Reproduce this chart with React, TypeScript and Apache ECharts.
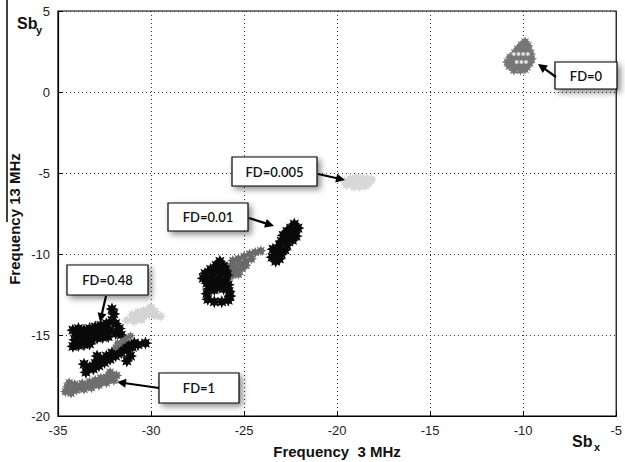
import React, { useEffect, useRef } from "react";
import * as echarts from "echarts";

const xTicks = [-35, -30, -25, -20, -15, -10, -5];
const yTicks = [-20, -15, -10, -5, 0, 5];

// FD = 0 (medium grey)
const fd0: number[][] = [
  [-9.9, 3.1], [-10.1, 2.9], [-9.75, 2.85], [-10.3, 2.65], [-10.0, 2.65], [-9.7, 2.6],
  [-10.45, 2.4], [-10.15, 2.4], [-9.85, 2.4], [-9.6, 2.35], [-10.7, 2.15], [-10.4, 2.1],
  [-10.1, 2.1], [-9.8, 2.1], [-9.55, 2.05], [-10.85, 1.85], [-10.55, 1.85], [-10.2, 1.85],
  [-9.9, 1.85], [-9.65, 1.8], [-10.75, 1.6], [-10.45, 1.6], [-10.1, 1.55], [-9.8, 1.55],
  [-10.5, 1.35], [-10.15, 1.35], [-9.9, 1.4],
];
const fd0Light: number[][] = [
  [-10.5, 2.35], [-10.25, 2.35], [-10.0, 2.35], [-9.75, 2.35], [-10.35, 1.85], [-10.1, 1.85], [-9.85, 1.85],
];
// FD = 0.005 (light grey)
const fd0005: number[][] = [
  [-19.6, -5.5], [-19.3, -5.35], [-19.0, -5.3], [-18.7, -5.3], [-18.4, -5.35], [-18.15, -5.4],
  [-19.5, -5.75], [-19.2, -5.65], [-18.9, -5.6], [-18.6, -5.6], [-18.3, -5.65], [-19.1, -5.85],
  [-18.8, -5.85], [-18.5, -5.8],
];
// FD = 0.01 (black)
const fd001: number[][] = [
  [-22.3, -8.15], [-22.1, -8.4], [-22.5, -8.4], [-22.3, -8.65], [-22.7, -8.6], [-22.2, -8.9],
  [-22.55, -8.9], [-22.9, -8.85], [-22.4, -9.15], [-22.75, -9.15], [-23.0, -9.2], [-22.7, -9.45],
  [-23.1, -9.45], [-22.8, -9.75], [-23.2, -9.75], [-23.45, -9.7], [-23.0, -10.0], [-23.3, -10.0],
  [-23.5, -10.2], [-23.1, -10.3], [-23.3, -10.45],
];
// grey cluster near (-25, -10.5)
const grey25: number[][] = [
  [-24.1, -9.8], [-24.4, -9.9], [-24.7, -10.0], [-25.0, -10.15], [-25.3, -10.3], [-25.6, -10.4],
  [-24.6, -10.3], [-24.9, -10.45], [-25.2, -10.6], [-25.5, -10.7], [-25.75, -10.75], [-25.1, -10.9],
  [-25.4, -11.0], [-25.7, -11.05], [-25.3, -11.25], [-25.6, -11.3], [-24.9, -10.7],
];
// black cluster near (-26.5, -12)
const black26: number[][] = [
  [-26.3, -10.45], [-26.5, -10.7], [-26.1, -10.75], [-26.8, -10.95], [-26.4, -10.95], [-26.0, -11.0],
  [-27.1, -11.2], [-26.7, -11.2], [-26.3, -11.25], [-25.9, -11.3], [-27.2, -11.5], [-26.8, -11.5],
  [-26.4, -11.55], [-26.0, -11.6], [-27.0, -11.8], [-26.6, -11.85], [-26.2, -11.85], [-25.85, -11.9],
  [-26.9, -12.15], [-26.5, -12.1], [-26.1, -12.15], [-25.8, -12.3], [-27.0, -12.45], [-25.75, -12.6],
  [-26.95, -12.8], [-25.85, -12.85], [-26.6, -12.95], [-26.2, -12.95], [-26.6, -12.2],
];
// light grey cluster near (-30.5, -13.8)
const light30: number[][] = [
  [-31.3, -14.1], [-31.0, -14.0], [-30.7, -13.9], [-30.4, -13.8], [-30.1, -13.75], [-29.8, -13.8],
  [-29.5, -13.85], [-31.0, -13.75], [-30.7, -13.6], [-30.4, -13.5], [-30.1, -13.4], [-30.0, -13.3],
  [-29.8, -13.55], [-30.9, -14.15], [-30.5, -14.05],
];
// FD = 0.48 (black)
const fd048: number[][] = [
  [-34.2, -14.7], [-33.9, -14.6], [-33.6, -14.7], [-33.3, -14.6], [-33.0, -14.5], [-32.7, -14.4],
  [-32.4, -14.3], [-32.1, -14.1], [-32.0, -13.7], [-32.1, -13.4], [-31.9, -14.3], [-31.7, -14.6],
  [-34.0, -15.0], [-33.7, -15.0], [-33.4, -15.05], [-33.1, -14.95], [-32.8, -14.85], [-32.5, -14.75],
  [-32.2, -14.7], [-31.9, -14.9], [-31.6, -15.0], [-34.1, -15.3], [-33.8, -15.35], [-33.5, -15.4],
  [-33.2, -15.3], [-32.9, -15.2], [-32.6, -15.15], [-32.3, -15.1], [-34.2, -15.7], [-33.9, -15.65],
  [-33.6, -15.6], [-33.3, -15.55],
  [-33.5, -17.3], [-33.3, -17.0], [-33.1, -17.1], [-33.0, -16.75], [-32.8, -16.9], [-32.7, -16.5],
  [-32.5, -16.7], [-32.4, -16.3], [-32.2, -16.5], [-32.1, -16.1], [-31.9, -16.3], [-31.8, -15.9],
  [-31.6, -16.1], [-31.5, -15.75], [-31.3, -15.9], [-31.2, -15.6], [-31.0, -15.75], [-30.9, -15.5],
  [-30.7, -15.6], [-30.3, -15.5], [-31.1, -16.3], [-31.3, -16.6], [-33.6, -16.8], [-32.9, -16.3],
];
// grey streak inside FD = 0.48 group
const greyStreak: number[][] = [
  [-31.9, -15.75], [-31.7, -15.55], [-31.5, -15.35], [-31.3, -15.2], [-31.1, -15.05], [-31.8, -15.5],
];
// FD = 1 (medium grey)
const fd1: number[][] = [
  [-34.6, -18.5], [-34.5, -18.2], [-34.3, -18.6], [-34.2, -18.3], [-34.0, -18.4], [-33.8, -18.2],
  [-33.6, -18.35], [-33.4, -18.1], [-33.2, -18.25], [-33.0, -18.0], [-32.8, -18.1], [-32.6, -17.85],
  [-32.4, -17.95], [-32.2, -17.7], [-32.0, -17.8], [-31.85, -17.5], [-32.1, -17.45], [-32.4, -17.6],
  [-32.7, -17.65], [-33.0, -17.8], [-33.3, -17.9], [-33.7, -18.0], [-34.1, -18.05], [-34.4, -17.95],
  [-32.2, -17.3],
];

const labels = ["FD=0", "FD=0.005", "FD=0.01", "FD=0.48", "FD=1"];

const STAR =
  "path://M2 1L1.508 1.211L1.707 1.707L1.211 1.508L1 2L0.789 1.508L0.293 1.707L0.492 1.211L0 1L0.492 0.789L0.293 0.293L0.789 0.492L1 0L1.211 0.492L1.707 0.293L1.508 0.789Z";

function arrow(x1: number, y1: number, x2: number, y2: number) {
  const dx = x2 - x1;
  const dy = y2 - y1;
  const len = Math.sqrt(dx * dx + dy * dy);
  const ux = dx / len;
  const uy = dy / len;
  const hl = 9;
  const hw = 4.5;
  const bx = x2 - ux * hl;
  const by = y2 - uy * hl;
  return [
    { type: "line", shape: { x1, y1, x2: bx + ux * 2, y2: by + uy * 2 }, style: { stroke: "#000", lineWidth: 2.2 }, z: 100 },
    {
      type: "polygon",
      shape: { points: [[x2, y2], [bx - uy * hw, by + ux * hw], [bx + uy * hw, by - ux * hw]] },
      style: { fill: "#000" },
      z: 100,
    },
  ];
}

function box(x: number, y: number, w: number, h: number, text: string) {
  return [
    {
      type: "rect",
      shape: { x, y, width: w, height: h },
      style: {
        fill: "#fff",
        stroke: "#000",
        lineWidth: 1.2,
        shadowColor: "rgba(0,0,0,0.45)",
        shadowBlur: 6,
        shadowOffsetX: 3,
        shadowOffsetY: 3,
      },
      z: 100,
    },
    {
      type: "text",
      x: x + w / 2,
      y: y + h / 2,
      style: {
        text,
        fill: "#111",
        font: "600 13px Lato, 'Open Sans', sans-serif",
        align: "center",
        verticalAlign: "middle",
      },
      z: 101,
    },
  ];
}

export default function App() {
  const ref = useRef<HTMLDivElement>(null);
  useEffect(() => {
    document.body.style.margin = "0";
    const chart = echarts.init(ref.current!, null, { renderer: "svg" });
    const sc = (data: number[][], color: string, size: number, z = 2) => ({
      type: "scatter",
      data,
      symbol: STAR,
      symbolSize: size,
      itemStyle: { color, opacity: 1 },
      z,
      silent: true,
    });
    const axisText = { color: "#222", fontSize: 13, fontFamily: "'Liberation Sans', Arial, sans-serif" };
    const split = { show: true, lineStyle: { color: "#333", type: [1, 3], width: 1 } };
    chart.setOption({
      animation: false,
      backgroundColor: "#fff",
      grid: { left: 58, right: 3, top: 11, bottom: 46, show: true, borderColor: "#000", borderWidth: 1.2, backgroundColor: "transparent" },
      xAxis: {
        type: "value",
        min: xTicks[0],
        max: xTicks[xTicks.length - 1],
        interval: 5,
        axisLine: { onZero: false, lineStyle: { color: "#000", width: 1.2 } },
        axisTick: { show: true, inside: true, length: 5, lineStyle: { color: "#000" } },
        axisLabel: { ...axisText, margin: 8 },
        splitLine: split,
      },
      yAxis: {
        type: "value",
        min: yTicks[0],
        max: yTicks[yTicks.length - 1],
        interval: 5,
        axisLine: { onZero: false, lineStyle: { color: "#000", width: 1.2 } },
        axisTick: { show: true, inside: true, length: 5, lineStyle: { color: "#000" } },
        axisLabel: { ...axisText, margin: 8 },
        splitLine: split,
      },
      series: [
        sc(fd0, "#777", 11),
        sc(fd0Light, "#e8e8e8", 5, 3),
        sc(fd0005, "#d8d8d8", 11),
        sc(grey25, "#6a6a6a", 11),
        sc(fd001, "#0a0a0a", 13),
        sc(black26, "#0a0a0a", 13),
        sc(light30, "#d4d4d4", 11),
        sc(fd048, "#0a0a0a", 13),
        sc(greyStreak, "#707070", 9, 3),
        sc(fd1, "#6e6e6e", 11),
      ],
      graphic: [
        { type: "line", shape: { x1: 7, y1: 0, x2: 7, y2: 222 }, style: { stroke: "#000", lineWidth: 1.5 } },
        {
          type: "text",
          x: 14,
          y: 219,
          rotation: Math.PI / 2,
          style: {
            text: "Frequency 13 MHz",
            font: "bold 15px 'Liberation Sans', Arial, sans-serif",
            fill: "#111",
            align: "center",
            verticalAlign: "middle",
          },
        },
        {
          type: "text",
          x: 337,
          y: 451,
          style: {
            text: "Frequency  3 MHz",
            font: "bold 15px 'Liberation Sans', Arial, sans-serif",
            fill: "#111",
            align: "center",
            verticalAlign: "middle",
          },
        },
        { type: "text", x: 17, y: 23, style: { text: "Sb", font: "bold 16px 'Liberation Sans', Arial, sans-serif", fill: "#111", align: "left", verticalAlign: "middle" } },
        { type: "text", x: 36, y: 30, style: { text: "y", font: "bold 11px 'Liberation Sans', Arial, sans-serif", fill: "#111", align: "left", verticalAlign: "middle" } },
        { type: "text", x: 572, y: 441, style: { text: "Sb", font: "bold 16px 'Liberation Sans', Arial, sans-serif", fill: "#111", align: "left", verticalAlign: "middle" } },
        { type: "text", x: 594, y: 447, style: { text: "x", font: "bold 11px 'Liberation Sans', Arial, sans-serif", fill: "#111", align: "left", verticalAlign: "middle" } },
        ...box(555, 62, 62, 27, labels[0]),
        ...arrow(556, 77, 538, 64),
        ...box(232, 157, 85, 29, labels[1]),
        ...arrow(318, 174, 345, 180),
        ...box(168, 203, 80, 28, labels[2]),
        ...arrow(249, 218, 274, 226),
        ...box(67, 265, 81, 30, labels[3]),
        ...arrow(106, 296, 100, 322),
        ...box(159, 373, 80, 30, labels[4]),
        ...arrow(159, 388, 117, 382),
      ],
    });
    return () => chart.dispose();
  }, []);
  return <div ref={ref} style={{ width: 625, height: 462 }} />;
}
